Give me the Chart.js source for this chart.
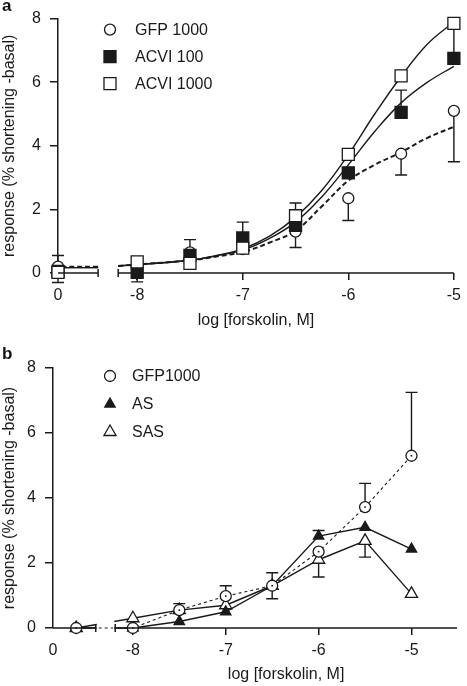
<!DOCTYPE html>
<html>
<head>
<meta charset="utf-8">
<script src="https://cdn.jsdelivr.net/npm/chart.js@4.4.0/dist/chart.umd.min.js"></script>
<style>
  html, body { margin: 0; padding: 0; background: #fff; }
  body { width: 467px; height: 686px; position: relative; overflow: hidden; font-family: 'Liberation Sans', Arial, sans-serif; }
  canvas { position: absolute; left: 0; }
  .tag { position: absolute; font-weight: bold; font-size: 17px; line-height: 16px; color: #111; z-index: 2; }
</style>
</head>
<body>
<canvas id="chartA" width="467" height="336" style="top:0"></canvas>
<canvas id="chartB" width="467" height="350" style="top:336px"></canvas>
<div class="tag" style="left:2px;top:-2px">a</div>
<div class="tag" style="left:2px;top:346px">b</div>
<script>
// === Data ===
const doses = ['control', -8, -7.5, -7, -6.5, -6, -5.5, -5];
const xTickValues = [-8, -7, -6, -5];

// panel a: means and one-sided SEM bars as visible in the figure
const namesA = ['GFP 1000', 'ACVI 100', 'ACVI 1000'];
const gfpA = [0.2, 0.15, 0.65, 0.75, 1.3, 2.35, 3.75, 5.1];
const acvi100A = [0.05, 0.02, 0.55, 1.1, 1.5, 3.15, 5.05, 6.75];
const acvi1000A = [0.02, 0.35, 0.3, 0.78, 1.8, 3.73, 6.2, 7.85];
const gfpUpA = [0.35, null, 0.4, null, null, null, null, null];
const gfpDownA = [null, null, null, null, 0.5, 0.7, 0.67, 1.6];
const acvi100UpA = [null, null, null, 0.5, null, null, 0.7, null];
const acvi100DownA = [0.35, 0.3, null, null, null, null, null, null];
const acvi1000UpA = [null, null, null, null, 0.4, null, null, null];
const acvi1000DownA = [null, null, null, null, null, null, null, 1.0];

// panel a: fitted curves
const fitDoses = [-8.18, -7.5, -7.25, -7, -6.75, -6.5, -6.25, -6, -5.75, -5.5, -5.25, -5];
const gfpFitA = [0.22, 0.4, 0.52, 0.66, 0.95, 1.33, 2.1, 2.9, 3.4, 3.8, 4.25, 4.6];
const acvi100FitA = [0.22, 0.4, 0.54, 0.72, 1.08, 1.6, 2.4, 3.4, 4.45, 5.35, 6.0, 6.5];
const acvi1000FitA = [0.22, 0.4, 0.55, 0.76, 1.15, 1.75, 2.6, 3.72, 5.0, 6.18, 7.2, 7.9];
const ctrlFitA = [0.2, 0.17, 0.17];

// panel b
const namesB = ['GFP1000', 'AS', 'SAS'];
const gfpB = [0, 0, 0.55, 0.98, 1.3, 2.35, 3.72, 5.3];
const asB = [0, 0, 0.2, 0.5, 1.3, 2.83, 3.1, 2.43];
const sasB = [0, 0.3, 0.55, 0.7, 1.3, 2.1, 2.68, 1.05];
const gfpUpB = [null, null, 0.2, 0.32, 0.4, null, 0.73, 1.95];
const gfpDownB = [null, null, null, null, 0.4, null, null, null];
const asUpB = [null, null, null, null, null, 0.17, null, null];
const sasDownB = [null, null, null, null, null, 0.53, 0.5, null];

// === Shared styling ===
const ink = '#1a1a1a';
Chart.defaults.font.family = "'Liberation Sans', Arial, Helvetica, sans-serif";
Chart.defaults.font.size = 16;
Chart.defaults.color = ink;

const pts = (xs, ys) => xs.map((x, i) => ({ x: x, y: ys[i] }));

// === Plugins ===
const errorBarPlugin = {
  id: 'errorBars',
  beforeDatasetsDraw(chart) {
    const { ctx } = chart;
    const xs = chart.scales.x, ys = chart.scales.y;
    ctx.save();
    ctx.strokeStyle = ink;
    ctx.lineWidth = 1.4;
    chart.data.datasets.forEach(ds => {
      if (!ds.errUp && !ds.errDown) return;
      ds.data.forEach((p, i) => {
        const px = xs.getPixelForValue(p.x);
        [[ds.errUp, 1], [ds.errDown, -1]].forEach(([arr, sign]) => {
          if (!arr || arr[i] == null) return;
          const y0 = ys.getPixelForValue(p.y);
          const y1 = ys.getPixelForValue(p.y + sign * arr[i]);
          ctx.beginPath();
          ctx.moveTo(px, y0);
          ctx.lineTo(px, y1);
          ctx.moveTo(px - 6, y1);
          ctx.lineTo(px + 6, y1);
          ctx.stroke();
        });
      });
    });
    ctx.restore();
  },
  afterDatasetsDraw(chart) {
    // small centre dot of the GFP circles in panel b
    const { ctx } = chart;
    chart.data.datasets.forEach((ds, di) => {
      if (!ds.centerDot) return;
      chart.getDatasetMeta(di).data.forEach(el => {
        ctx.save();
        ctx.fillStyle = ink;
        ctx.fillRect(el.x - 0.8, el.y - 0.8, 1.6, 1.6);
        ctx.restore();
      });
    });
  }
};

const brokenAxisPlugin = {
  id: 'brokenAxis',
  afterDatasetsDraw(chart, args, o) {
    if (!o.mask) return;
    const { ctx, chartArea } = chart;
    const xs = chart.scales.x;
    const a = xs.getPixelForValue(o.from), b = xs.getPixelForValue(o.to);
    ctx.save();
    ctx.fillStyle = '#fff';
    ctx.fillRect(a + 1, chartArea.top, b - a - 2, chartArea.bottom - chartArea.top + 3);
    ctx.restore();
  },
  afterDraw(chart, args, o) {
    const { ctx, chartArea } = chart;
    const xs = chart.scales.x;
    const a = xs.getPixelForValue(o.from), b = xs.getPixelForValue(o.to);
    const y = chartArea.bottom;
    ctx.save();
    ctx.strokeStyle = ink;
    ctx.lineWidth = 1.5;
    ctx.beginPath();
    ctx.moveTo(chartArea.left, y); ctx.lineTo(a, y);
    ctx.moveTo(b, y); ctx.lineTo(chartArea.right, y);
    ctx.moveTo(a, y - 4); ctx.lineTo(a, y + 4);
    ctx.moveTo(b, y - 4); ctx.lineTo(b, y + 4);
    ctx.stroke();
    if (o.gapDash) {
      ctx.setLineDash([3, 3]);
      ctx.lineWidth = 1.2;
      ctx.beginPath();
      ctx.moveTo(a + 3, y); ctx.lineTo(b - 2, y);
      ctx.stroke();
      ctx.setLineDash([]);
    }
    if (o.title) {
      ctx.fillStyle = ink;
      ctx.font = "16px 'Liberation Sans', Arial, sans-serif";
      ctx.textAlign = 'center';
      ctx.textBaseline = 'middle';
      ctx.fillText(o.title, (b + chartArea.right) / 2, chart.height - 11);
    }
    ctx.restore();
  }
};

const legendPlugin = {
  id: 'panelLegend',
  afterDraw(chart, args, o) {
    const { ctx, chartArea } = chart;
    const items = chart.data.datasets.filter(ds => ds.legend);
    items.forEach((ds, i) => {
      const x = chartArea.left + o.left;
      const y = chartArea.top + o.top + i * o.gap;
      ctx.save();
      ctx.fillStyle = ds.pointBackgroundColor;
      ctx.strokeStyle = ink;
      ctx.lineWidth = 1.3;
      Chart.helpers.drawPoint(ctx, { pointStyle: ds.pointStyle, radius: ds.pointRadius, borderWidth: 1.3, rotation: 0 }, x, y);
      ctx.fillStyle = ink;
      ctx.font = "16px 'Liberation Sans', Arial, sans-serif";
      ctx.textAlign = 'left';
      ctx.textBaseline = 'middle';
      ctx.fillText(ds.label, x + o.textGap, y + 1);
      ctx.restore();
    });
  }
};

// === Chart builder ===
function makeChart(canvas, p) {
  return new Chart(canvas, {
    type: 'line',
    data: { datasets: p.datasets },
    options: {
      responsive: false,
      animation: false,
      layout: { padding: p.padding },
      plugins: {
        legend: { display: false },
        tooltip: { enabled: false },
        brokenAxis: p.broken,
        panelLegend: p.legend
      },
      scales: {
        x: {
          type: 'linear',
          min: p.xMin,
          max: p.xMax,
          border: { display: false },
          grid: {
            drawOnChartArea: false,
            drawTicks: true,
            tickLength: 7,
            lineWidth: 1.5,
            color: ctx => (ctx.tick && ctx.tick.value === p.ctrlLabel ? 'rgba(0,0,0,0)' : ink)
          },
          afterBuildTicks: s => { s.ticks = [p.ctrlLabel, ...xTickValues].map(v => ({ value: v })); },
          ticks: {
            autoSkip: false,
            maxRotation: 0,
            padding: 6,
            callback: v => (v === p.ctrlLabel ? '0' : String(v))
          },
          title: p.xTitle,
          afterFit: s => { s.height = p.xHeight; }
        },
        y: {
          min: 0,
          max: 8,
          border: { display: true, color: ink, width: 1.5 },
          grid: { drawOnChartArea: false, drawTicks: true, tickLength: 8, lineWidth: 1.5, color: ink },
          ticks: { stepSize: 2, padding: 9 },
          title: { display: true, text: 'response (% shortening -basal)', padding: { top: 0, bottom: 0 } },
          afterFit: s => { s.width = p.yWidth; }
        }
      }
    },
    plugins: [errorBarPlugin, brokenAxisPlugin, legendPlugin]
  });
}

// === Panel a ===
const ctrlA = -8.75;
const breakA = [-8.37, -8.18];
const xA = doses.map(d => (d === 'control' ? ctrlA : d));

const fitLine = (data, dash, order) => ({
  data: data,
  borderColor: ink,
  borderWidth: dash ? 2 : 1.4,
  borderDash: dash ? [5, 3] : [],
  pointRadius: 0,
  tension: 0.4,
  clip: false,
  order: order
});
const markers = (label, ys, style, radius, fill, up, down, order) => ({
  label: label,
  data: pts(xA, ys),
  showLine: false,
  pointStyle: style,
  pointRadius: radius,
  pointBackgroundColor: fill,
  pointBorderColor: ink,
  pointBorderWidth: 1.3,
  errUp: up,
  errDown: down,
  legend: true,
  clip: false,
  order: order
});

makeChart(document.getElementById('chartA'), {
  xMin: ctrlA, xMax: -5, ctrlLabel: ctrlA,
  padding: { top: 16, right: 8, left: 0, bottom: 0 },
  yWidth: 58, xHeight: 63,
  xTitle: { display: true, text: 'log [forskolin, M]', padding: { top: 0, bottom: 6 } },
  broken: { from: breakA[0], to: breakA[1], mask: false, gapDash: false },
  legend: { left: 52, top: 11, gap: 27, textGap: 25 },
  datasets: [
    fitLine(pts(fitDoses, gfpFitA), true, 12),
    fitLine(pts(fitDoses, acvi100FitA), false, 11),
    fitLine(pts(fitDoses, acvi1000FitA), false, 10),
    fitLine(pts([ctrlA + 0.03, breakA[0]], [ctrlFitA[0], ctrlFitA[0]]), true, 12),
    fitLine(pts([ctrlA + 0.03, breakA[0]], [ctrlFitA[1], ctrlFitA[1]]), false, 11),
    fitLine(pts([ctrlA + 0.03, breakA[0]], [ctrlFitA[2], ctrlFitA[2]]), false, 10),
    markers(namesA[0], gfpA, 'circle', 5.5, '#fff', gfpUpA, gfpDownA, 3),
    markers(namesA[1], acvi100A, 'rect', 8.5, ink, acvi100UpA, acvi100DownA, 2),
    markers(namesA[2], acvi1000A, 'rect', 8.5, '#fff', acvi1000UpA, acvi1000DownA, 1)
  ]
});

// === Panel b ===
const ctrlLabelB = -8.86;
const ctrlB = -8.61;
const breakB = [-8.4, -8.19];
const xB = doses.map(d => (d === 'control' ? ctrlB : d));

const series = (label, ys, style, radius, fill, dash, up, down, order, dot) => ({
  label: label,
  data: pts(xB, ys),
  borderColor: ink,
  borderWidth: dash ? 1.1 : 1.4,
  borderDash: dash ? [3, 3] : [],
  tension: 0,
  pointStyle: style,
  pointRadius: radius,
  pointBackgroundColor: fill,
  pointBorderColor: ink,
  pointBorderWidth: 1.3,
  errUp: up,
  errDown: down,
  centerDot: dot,
  legend: true,
  clip: false,
  order: order
});

makeChart(document.getElementById('chartB'), {
  xMin: ctrlLabelB, xMax: -4.51, ctrlLabel: ctrlLabelB,
  padding: { top: 32, right: 10, left: 0, bottom: 0 },
  yWidth: 53, xHeight: 58,
  xTitle: { display: false },
  broken: { from: breakB[0], to: breakB[1], mask: true, gapDash: true, title: 'log [forskolin, M]' },
  legend: { left: 57, top: 8, gap: 28, textGap: 22 },
  datasets: [
    series(namesB[0], gfpB, 'circle', 5.5, '#fff', true, gfpUpB, gfpDownB, 1, true),
    series(namesB[1], asB, 'triangle', 6, ink, false, asUpB, null, 2, false),
    series(namesB[2], sasB, 'triangle', 7, '#fff', false, null, sasDownB, 3, false)
  ]
});
</script>
</body>
</html>
